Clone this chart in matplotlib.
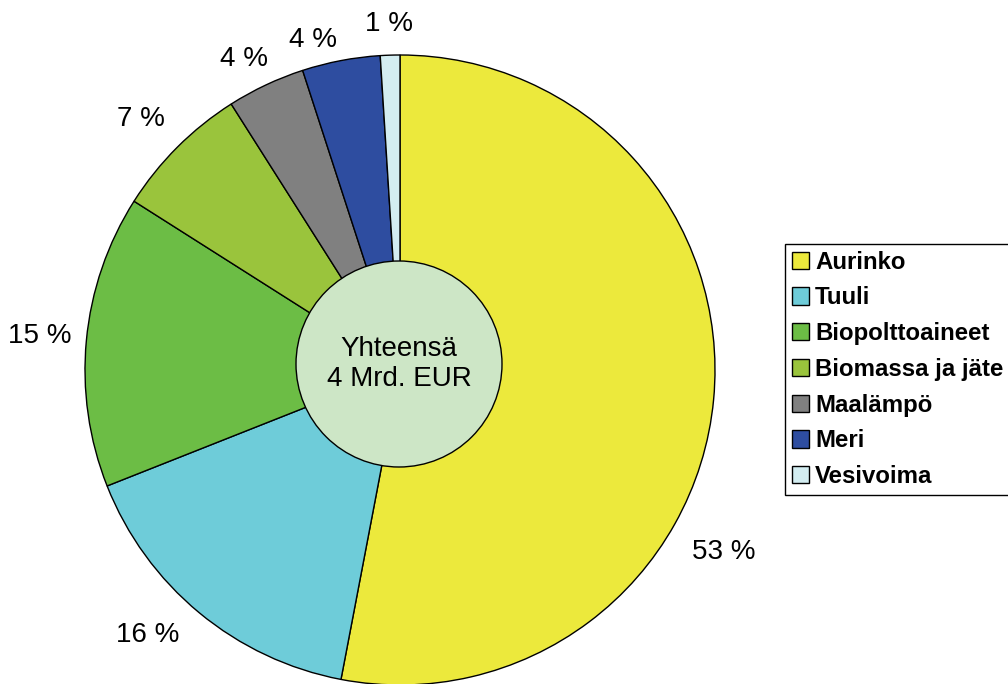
import numpy as np
import matplotlib
matplotlib.use("Agg")
import matplotlib.pyplot as plt
from matplotlib.patches import Circle

plt.rcParams["font.family"] = ["Liberation Sans", "DejaVu Sans"]

# ------ data ------
CATEGORIES = ["Aurinko", "Tuuli", "Biopolttoaineet", "Biomassa ja jäte",
              "Maalämpö", "Meri", "Vesivoima"]
SHARES = [53, 16, 15, 7, 4, 4, 1]
PCT_LABELS = ["53 %", "16 %", "15 %", "7 %", "4 %", "4 %", "1 %"]
CENTER_TEXT = "Yhteensä\n4 Mrd. EUR"

COLORS = ["#ECE93C", "#6ECCD9", "#6CBD45", "#9AC43C", "#808080", "#2E4DA0", "#D3EDF1"]

# label placement (angle offset in deg, distance in radii) -- Excel-ish
LABEL_ADJ = [(-24.0, 1.18), (-4.0, 1.16), (0.0, 1.15), (1.0, 1.145),
             (1.5, 1.105), (4.0, 1.085), (0.0, 1.10)]


def main():
    fig = plt.figure(figsize=(10.08, 6.84), dpi=100)
    ax = fig.add_axes([0, 0, 1, 1])

    cx, cy, r = 400, 684 - 370, 315
    wedges, _ = ax.pie(SHARES, colors=COLORS, startangle=90, counterclock=False,
                       center=(cx, cy), radius=r, frame=True,
                       wedgeprops=dict(edgecolor="black", linewidth=1.0))

    for w, lab, (dang, dist) in zip(wedges, PCT_LABELS, LABEL_ADJ):
        mid = np.deg2rad(0.5 * (w.theta1 + w.theta2) + dang)
        ax.text(cx + dist * r * np.cos(mid), cy + dist * r * np.sin(mid), lab,
                ha="center", va="center", fontsize=20)

    ax.add_patch(Circle((cx - 1, 684 - 364), 103, facecolor="#CDE6C6",
                        edgecolor="black", linewidth=1.0, zorder=5))
    ax.text(cx - 1, 684 - 364, CENTER_TEXT, ha="center", va="center",
            fontsize=20, linespacing=1.15, zorder=6)

    ax.set_xlim(0, 1008)
    ax.set_ylim(0, 684)
    ax.set_aspect("equal")
    ax.axis("off")

    leg = fig.legend(wedges, CATEGORIES, loc="upper left",
                     bbox_to_anchor=(785 / 1008, 1 - 244 / 684),
                     prop=dict(weight="bold", size=17.3),
                     handlelength=0.72, handleheight=0.72, handletextpad=0.25,
                     labelspacing=0.53, borderpad=0.28, borderaxespad=0.0,
                     fancybox=False, edgecolor="black", framealpha=1.0)
    leg.get_frame().set_linewidth(1.0)

    fig.savefig("out.png", dpi=100)


if __name__ == "__main__":
    main()
